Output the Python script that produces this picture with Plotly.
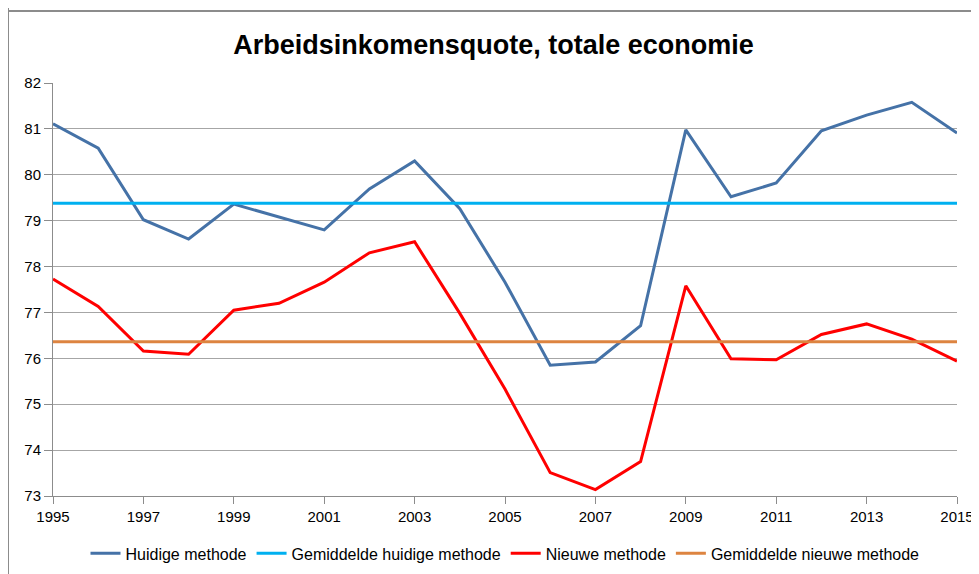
import plotly.graph_objects as go

years = list(range(1995, 2016))
huidige = [81.11, 80.58, 79.02, 78.60, 79.36, 79.08, 78.80, 79.69, 80.30, 79.26,
           77.66, 75.85, 75.92, 76.71, 80.98, 79.52, 79.82, 80.96, 81.30, 81.58, 80.91]
nieuwe = [77.73, 77.13, 76.16, 76.09, 77.05, 77.20, 77.66, 78.30, 78.54, 76.98,
          75.33, 73.51, 73.14, 73.75, 77.58, 75.99, 75.97, 76.52, 76.75, 76.42, 75.94]
gem_huidige = 79.38
gem_nieuwe = 76.36
names = ["Huidige methode", "Gemiddelde huidige methode", "Nieuwe methode", "Gemiddelde nieuwe methode"]
colors = ["#4572A7", "#00B0F0", "#FF0000", "#DD8440"]
tickvals_x = list(range(1995, 2016, 2))
tickvals_y = list(range(73, 83))

font_family = "Liberation Sans, Arial, sans-serif"

# page body has ~8px default margin; figure sized so it fits the window
W, H = 971, 566
L, T, R, B = 45, 75, 22, 78
PW, PH = W - L - R, H - T - B

fig = go.Figure()
series = [huidige, [gem_huidige] * len(years), nieuwe, [gem_nieuwe] * len(years)]
for s, n, c in zip(series, names, colors):
    fig.add_trace(go.Scatter(x=years, y=s, mode="lines", name=n,
                             line=dict(color=c, width=3)))

fig.update_layout(
    width=W, height=H,
    margin=dict(l=L, r=R, t=T, b=B, autoexpand=False),
    paper_bgcolor="white", plot_bgcolor="white",
    font=dict(family=font_family, size=15, color="#000000"),
    title=dict(text="<b>Arbeidsinkomensquote, totale economie</b>",
               x=0.5, xanchor="center", y=1 - 37 / H, yanchor="middle",
               font=dict(family=font_family, size=27, color="#000000")),
    showlegend=True,
    legend=dict(orientation="h", x=0.5, xanchor="center", y=-0.098, yanchor="top",
                font=dict(family=font_family, size=16), itemwidth=30,
                tracegroupgap=0),
    shapes=[
        dict(type="line", xref="paper", yref="paper", x0=(0 - L) / PW, x1=(0 - L) / PW,
             y0=1.3, y1=-0.3, line=dict(color="#8C8C8C", width=2)),
        dict(type="line", xref="paper", yref="paper", x0=(0 - L) / PW, x1=1.1,
             y0=(T + PH - 3) / PH, y1=(T + PH - 3) / PH, line=dict(color="#8C8C8C", width=2)),
    ],
)
fig.update_xaxes(range=[1995, 2015], tickvals=tickvals_x, ticktext=[str(v) for v in tickvals_x],
                 showgrid=False, showline=True, linecolor="#8C8C8C", linewidth=1,
                 ticks="outside", ticklen=7, tickcolor="#8C8C8C", zeroline=False,
                 tickfont=dict(size=15), automargin=False)
fig.update_yaxes(range=[73, 82], tickvals=tickvals_y, showgrid=True, gridcolor="#A6A6A6",
                 gridwidth=1, showline=True, linecolor="#8C8C8C", linewidth=1,
                 ticks="outside", ticklen=8, tickcolor="#8C8C8C", zeroline=False,
                 tickfont=dict(size=15), automargin=False)

fig.write_html("out.html")
